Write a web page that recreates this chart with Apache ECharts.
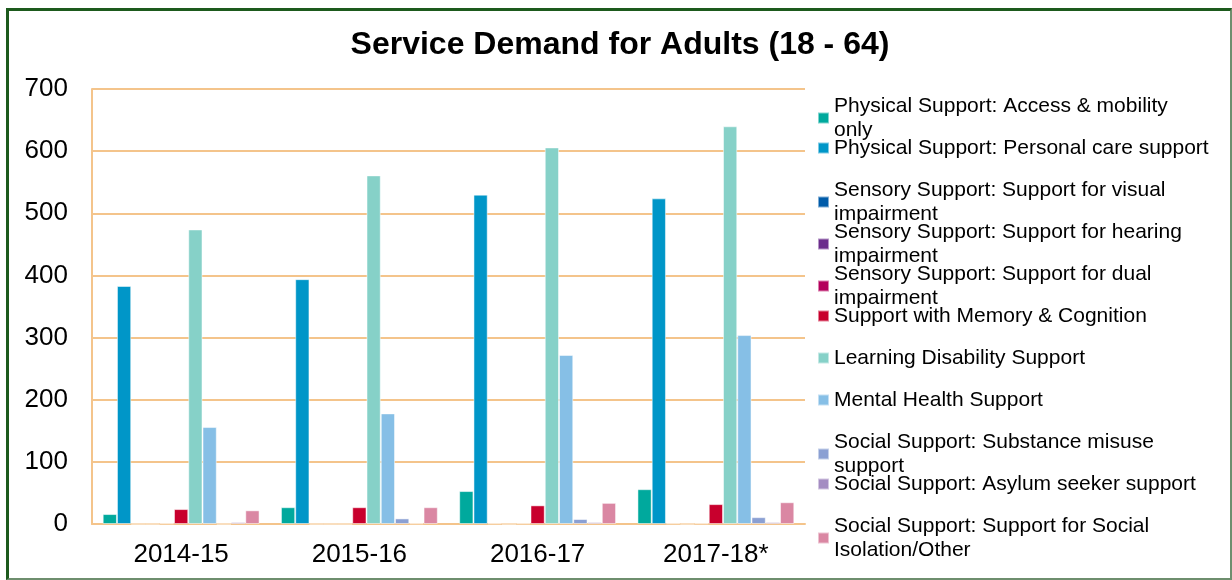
<!DOCTYPE html>
<html>
<head>
<meta charset="utf-8">
<script src="https://cdn.jsdelivr.net/npm/echarts@6/dist/echarts.min.js"></script>
<style>
  html, body { margin: 0; padding: 0; background: #fff; }
  #chart { width: 1232px; height: 580px; }
  #frame {
    position: absolute; left: 6px; top: 8px; width: 1221px; height: 567px;
    border-left: 3px solid #1d5a1d; border-top: 3px solid #1d5a1d;
    border-right: 2px solid #6e8e6e; border-bottom: 2px solid #6e8e6e;
    pointer-events: none;
  }
</style>
</head>
<body>
<div id="chart"></div>
<div id="frame"></div>
<script>
var categories = ['2014-15', '2015-16', '2016-17', '2017-18*'];

var accessMobility = [16, 27, 53, 56];
var personalCare = [383, 394, 530, 524];
var visualImpairment = [0, 0, 1, 1];
var hearingImpairment = [0, 0, 0, 0];
var dualImpairment = [1, 0, 1, 1];
var memoryCognition = [24, 27, 30, 32];
var learningDisability = [474, 561, 606, 640];
var mentalHealth = [156, 178, 272, 304];
var substanceMisuse = [0, 9, 8, 11];
var asylumSeeker = [3, 1, 3, 3];
var socialIsolation = [22, 27, 34, 35];

var seriesNames = [
    'Physical Support: Access & mobility only',
    'Physical Support: Personal care support',
    'Sensory Support: Support for visual impairment',
    'Sensory Support: Support for hearing impairment',
    'Sensory Support: Support for dual impairment',
    'Support with Memory & Cognition',
    'Learning Disability Support',
    'Mental Health Support',
    'Social Support: Substance misuse support',
    'Social Support: Asylum seeker support',
    'Social Support: Support for Social Isolation/Other'
];
var seriesData = [
    accessMobility, personalCare, visualImpairment, hearingImpairment, dualImpairment,
    memoryCognition, learningDisability, mentalHealth, substanceMisuse, asylumSeeker, socialIsolation
];

var chart = echarts.init(document.getElementById('chart'));

var axisColor = '#f4c48b';
var font = 'Liberation Sans, Arial, sans-serif';

// one legend per entry so wrapped names overlap the next row like the original
var legends = seriesNames.map(function (name, i) {
    return {
        orient: 'vertical',
        left: 817,
        top: 94 + i * 42,
        padding: 0,
        itemWidth: 11,
        itemHeight: 11,
        icon: 'rect',
        textStyle: {
            fontFamily: font,
            fontSize: 21,
            color: '#000',
            width: 376,
            overflow: 'break',
            lineHeight: 24
        },
        data: [name]
    };
});

option = {
    color: ['#00a99d', '#0096c8', '#005ba9', '#6b2d8c', '#b4005c', '#c8002d',
            '#86d1c8', '#86bfe6', '#8ba0d3', '#a48cc2', '#da87a3'],
    title: {
        text: 'Service Demand for Adults (18 - 64)',
        left: 615,
        top: 24,
        textAlign: 'center',
        textStyle: {
            fontFamily: font,
            fontSize: 32,
            fontWeight: 'bold',
            color: '#000'
        }
    },
    legend: legends,
    grid: {
        left: 92,
        right: 427,
        top: 89,
        bottom: 56
    },
    xAxis: {
        type: 'category',
        data: categories,
        axisLine: { lineStyle: { color: axisColor, width: 2 } },
        axisTick: { show: false },
        axisLabel: {
            fontFamily: font,
            fontSize: 26,
            color: '#000',
            margin: 18
        }
    },
    yAxis: {
        type: 'value',
        min: 0,
        max: 700,
        interval: 100,
        axisLine: { show: true, lineStyle: { color: axisColor, width: 2 } },
        axisTick: { show: false },
        splitLine: { lineStyle: { color: axisColor, width: 2 } },
        axisLabel: {
            fontFamily: font,
            fontSize: 26,
            color: '#000',
            margin: 24
        }
    },
    series: seriesNames.map(function (name, i) {
        return {
            name: name,
            type: 'bar',
            data: seriesData[i],
            barGap: '0%',
            barCategoryGap: '12%',
            itemStyle: { borderColor: 'rgba(255,255,255,0.5)', borderWidth: 1 }
        };
    })
};

chart.setOption(option);
</script>
</body>
</html>
